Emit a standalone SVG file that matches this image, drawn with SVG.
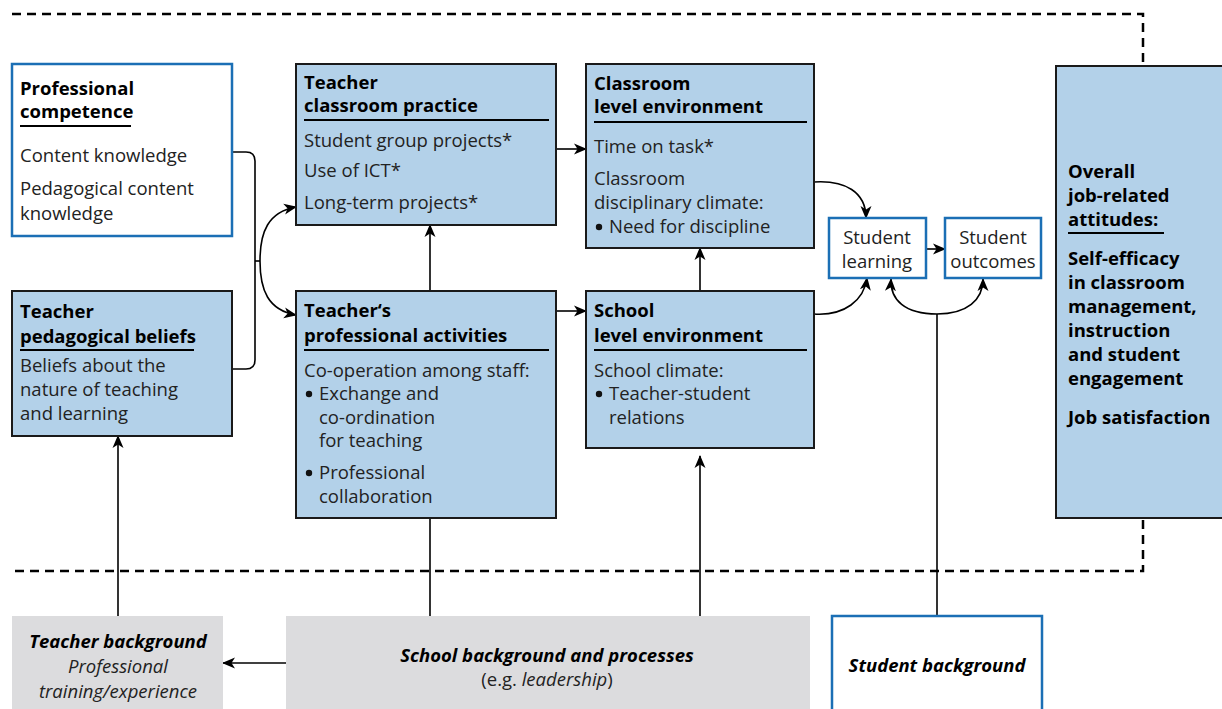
<svg xmlns="http://www.w3.org/2000/svg" width="1222" height="709" viewBox="0 0 1222 709">
<defs>
<marker id="ah" markerUnits="userSpaceOnUse" markerWidth="14" markerHeight="12" refX="12" refY="6" orient="auto">
<path d="M0,0.5 L13,6 L0,11.5 L3.5,6 z" fill="#000"/>
</marker>
<style>
.blue{fill:#b3d1e9;stroke:#1a1a1a;stroke-width:2}
.white{fill:#fff;stroke:#1b6fb5;stroke-width:2.5}
.gray{fill:#dcdcde;stroke:none}
text{font-family:"Open Sans","Noto Sans",sans-serif;font-size:18.5px;fill:#222}
.t{font-weight:bold;fill:#000}
.ul{stroke:#000;stroke-width:2}
.c{fill:none;stroke:#000;stroke-width:1.6}
.dash{fill:none;stroke:#000;stroke-width:2.5;stroke-dasharray:9,6}
.bi{font-weight:bold;font-style:italic;fill:#000}
.i{font-style:italic}
.m{text-anchor:middle}
.dot{fill:#111}
</style>
</defs>
<rect width="1222" height="709" fill="#fff"/>
<g id="boundary">
<path class="dash" d="M12,14 H1143 V66"/>
<path class="dash" d="M1143,520 V571 H12"/>
</g>
<g id="connectors">
<path class="c" d="M232,152 H246 Q255,152 255,161 V360 Q255,369 246,369 H232"/>
<path class="c" d="M255,261 H260"/>
<path class="c" d="M260,261 C260,232 268,212 296,207" marker-end="url(#ah)"/>
<path class="c" d="M260,261 C260,290 268,310 296,315" marker-end="url(#ah)"/>
<path class="c" d="M556,149 H586" marker-end="url(#ah)"/>
<path class="c" d="M556,311 H586" marker-end="url(#ah)"/>
<path class="c" d="M430,291 V225" marker-end="url(#ah)"/>
<path class="c" d="M700,291 V248" marker-end="url(#ah)"/>
<path class="c" d="M430,616 V518"/>
<path class="c" d="M700,616 V456" marker-end="url(#ah)"/>
<path class="c" d="M286,663 H223" marker-end="url(#ah)"/>
<path class="c" d="M118,616 V436" marker-end="url(#ah)"/>
<path class="c" d="M814,182 C845,180 866,192 866,218" marker-end="url(#ah)"/>
<path class="c" d="M814,314 C845,316 864,300 867,278" marker-end="url(#ah)"/>
<path class="c" d="M926,249 H945" marker-end="url(#ah)"/>
<path class="c" d="M937,616 V314"/>
<path class="c" d="M937,314 C905,314 890,300 891,279" marker-end="url(#ah)"/>
<path class="c" d="M937,314 C967,314 983,300 983,279" marker-end="url(#ah)"/>
</g>
<g id="professional-competence">
<rect class="white" x="12" y="64" width="220" height="172"/>
<text class="t" x="20" y="95">Professional</text>
<text class="t" x="20" y="118">competence</text>
<line class="ul" x1="20" y1="126" x2="131" y2="126"/>
<text x="20" y="162">Content knowledge</text>
<text x="20" y="195">Pedagogical content</text>
<text x="20" y="220">knowledge</text>
</g>
<g id="teacher-pedagogical-beliefs">
<rect class="blue" x="12" y="291" width="220" height="145"/>
<text class="t" x="20" y="318">Teacher</text>
<text class="t" x="20" y="343">pedagogical beliefs</text>
<line class="ul" x1="20" y1="350" x2="194" y2="350"/>
<text x="20" y="372">Beliefs about the</text>
<text x="20" y="396">nature of teaching</text>
<text x="20" y="420">and learning</text>
</g>
<g id="teacher-classroom-practice">
<rect class="blue" x="296" y="64" width="260" height="161"/>
<text class="t" x="304" y="89">Teacher</text>
<text class="t" x="304" y="112">classroom practice</text>
<line class="ul" x1="304" y1="120" x2="549" y2="120"/>
<text x="304" y="147">Student group projects*</text>
<text x="304" y="177">Use of ICT*</text>
<text x="304" y="209">Long-term projects*</text>
</g>
<g id="teachers-professional-activities">
<rect class="blue" x="296" y="291" width="260" height="227"/>
<text class="t" x="304" y="317">Teacher‘s</text>
<text class="t" x="304" y="342">professional activities</text>
<line class="ul" x1="304" y1="350" x2="549" y2="350"/>
<text x="304" y="377">Co-operation among staff:</text>
<circle class="dot" cx="309" cy="394" r="3.2"/><text x="319" y="400">Exchange and</text>
<text x="319" y="424">co-ordination</text>
<text x="319" y="447">for teaching</text>
<circle class="dot" cx="309" cy="473" r="3.2"/><text x="319" y="479">Professional</text>
<text x="319" y="503">collaboration</text>
</g>
<g id="classroom-level-environment">
<rect class="blue" x="586" y="64" width="228" height="184"/>
<text class="t" x="594" y="90">Classroom</text>
<text class="t" x="594" y="113">level environment</text>
<line class="ul" x1="594" y1="122" x2="807" y2="122"/>
<text x="594" y="153">Time on task*</text>
<text x="594" y="185">Classroom</text>
<text x="594" y="209">disciplinary climate:</text>
<circle class="dot" cx="599" cy="227" r="3.2"/><text x="609" y="233">Need for discipline</text>
</g>
<g id="school-level-environment">
<rect class="blue" x="586" y="291" width="228" height="157"/>
<text class="t" x="594" y="317">School</text>
<text class="t" x="594" y="342">level environment</text>
<line class="ul" x1="594" y1="350" x2="807" y2="350"/>
<text x="594" y="377">School climate:</text>
<circle class="dot" cx="599" cy="394" r="3.2"/><text x="609" y="400">Teacher-student</text>
<text x="609" y="424">relations</text>
</g>
<g id="student-learning">
<rect class="white" x="829" y="218" width="97" height="60"/>
<text class="m" x="877" y="244">Student</text>
<text class="m" x="877" y="268">learning</text>
</g>
<g id="student-outcomes">
<rect class="white" x="945" y="218" width="96" height="60"/>
<text class="m" x="993" y="244">Student</text>
<text class="m" x="993" y="268">outcomes</text>
</g>
<g id="overall-job-related-attitudes">
<rect class="blue" x="1056" y="66" width="170" height="452"/>
<text class="t" x="1068" y="178">Overall</text>
<text class="t" x="1068" y="202">job-related</text>
<text class="t" x="1068" y="226">attitudes:</text>
<line class="ul" x1="1068" y1="233" x2="1164" y2="233"/>
<text class="t" x="1068" y="265">Self-efficacy</text>
<text class="t" x="1068" y="289">in classroom</text>
<text class="t" x="1068" y="313">management,</text>
<text class="t" x="1068" y="337">instruction</text>
<text class="t" x="1068" y="361">and student</text>
<text class="t" x="1068" y="385">engagement</text>
<text class="t" x="1068" y="424">Job satisfaction</text>
</g>
<g id="teacher-background">
<rect class="gray" x="12" y="616" width="211" height="93"/>
<text class="bi m" x="118" y="648">Teacher background</text>
<text class="i m" x="118" y="673">Professional</text>
<text class="i m" x="118" y="698">training/experience</text>
</g>
<g id="school-background">
<rect class="gray" x="286" y="616" width="524" height="93"/>
<text class="bi m" x="547" y="662">School background and processes</text>
<text class="m" x="547" y="686">(e.g. <tspan class="i">leadership</tspan>)</text>
</g>
<g id="student-background">
<rect class="white" x="832" y="616" width="210" height="100"/>
<text class="bi m" x="937" y="672">Student background</text>
</g>
</svg>
